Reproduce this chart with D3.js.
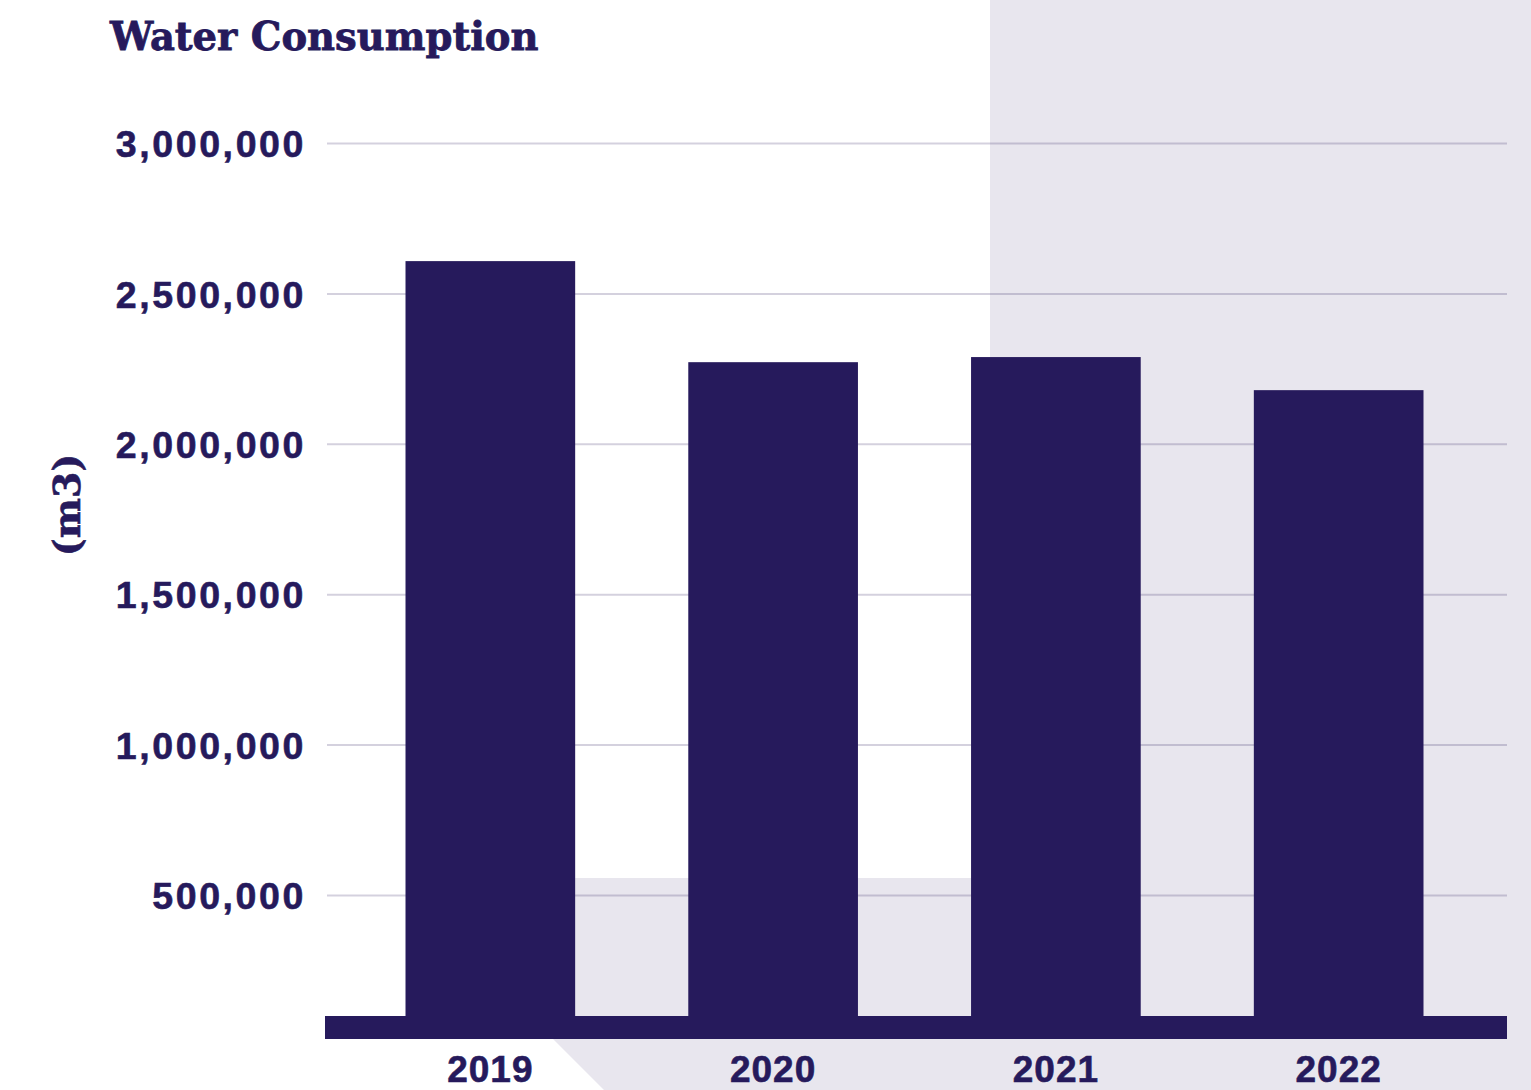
<!DOCTYPE html>
<html>
<head>
<meta charset="utf-8">
<script src="https://cdn.jsdelivr.net/npm/d3@7"></script>
<style>
  html, body { margin: 0; padding: 0; background: #ffffff; }
  svg { display: block; }
</style>
</head>
<body>
<svg id="chart" width="1531" height="1090"></svg>
<script>
// Annual water consumption, cubic metres
const years = ["2019", "2020", "2021", "2022"];
const consumption = [2609000, 2273000, 2290000, 2180000];
const tickValues = [500000, 1000000, 1500000, 2000000, 2500000, 3000000];

const W = 1531, H = 1090;
const ink = "#261a5c";
const panel = "#e8e6ee";

const svg = d3.select("#chart");

const y = d3.scaleLinear().domain([0, 3000000]).range([1045.9, 143.5]);
const x = d3.scaleBand().domain(years).range([323.5, 1505.5])
  .paddingInner(0.4).paddingOuter(0.29);

const baseTop = 1016, baseBottom = 1039;

// Decorative background panels
svg.append("rect").attr("x", 990).attr("y", 0)
  .attr("width", W - 990).attr("height", H).attr("fill", panel);
svg.append("rect").attr("x", x("2019") + x.bandwidth()).attr("y", 878)
  .attr("width", 990 - (x("2019") + x.bandwidth())).attr("height", baseBottom - 878)
  .attr("fill", panel);
svg.append("polygon")
  .attr("points", [[553, baseBottom], [W, baseBottom], [W, H], [604, H]].map(p => p.join(",")).join(" "))
  .attr("fill", panel);

// Value axis labels
const yAxis = d3.axisLeft(y).tickValues(tickValues).tickSize(0)
  .tickFormat(d3.format(","));
const yg = svg.append("g").attr("transform", "translate(306,0)").call(yAxis);
yg.select(".domain").remove();
yg.selectAll("text")
  .attr("x", 0)
  .attr("dy", "0.35em")
  .attr("fill", ink)
  .attr("stroke", ink)
  .attr("stroke-width", 0.6)
  .style("font-family", "'Liberation Sans', Arial, sans-serif")
  .style("font-weight", "bold")
  .style("font-size", "37.5px")
  .style("letter-spacing", "2.6px");

// Gridlines
svg.append("g").selectAll("line")
  .data(tickValues)
  .join("line")
  .attr("x1", 327).attr("x2", 1507)
  .attr("y1", d => y(d)).attr("y2", d => y(d))
  .attr("stroke", ink).attr("stroke-opacity", 0.2).attr("stroke-width", 2);

// Bars
svg.append("g").selectAll("rect")
  .data(years.map((yr, i) => ({ yr, v: consumption[i] })))
  .join("rect")
  .attr("x", d => x(d.yr))
  .attr("width", x.bandwidth())
  .attr("y", d => y(d.v))
  .attr("height", d => baseTop + 4 - y(d.v))
  .attr("fill", ink);

// Baseline
svg.append("rect").attr("x", 325).attr("y", baseTop)
  .attr("width", 1507 - 325).attr("height", baseBottom - baseTop)
  .attr("fill", ink);

// Year labels
const xAxis = d3.axisBottom(x).tickSize(0);
const xg = svg.append("g").attr("transform", `translate(0,${baseBottom})`).call(xAxis);
xg.select(".domain").remove();
xg.selectAll("text")
  .attr("y", 43)
  .attr("dy", 0)
  .attr("fill", ink)
  .attr("stroke", ink)
  .attr("stroke-width", 0.6)
  .style("font-family", "'Liberation Sans', Arial, sans-serif")
  .style("font-weight", "bold")
  .style("font-size", "37px")
  .style("letter-spacing", "1px");

// Title
svg.append("text")
  .attr("x", 110).attr("y", 50)
  .attr("fill", ink)
  .attr("stroke", ink)
  .attr("stroke-width", 0.8)
  .style("font-family", "'DejaVu Serif', serif")
  .style("font-weight", "bold")
  .style("font-size", "38.5px")
  .text("Water Consumption");

// Unit label
svg.append("text")
  .attr("transform", "translate(80,505) rotate(-90)")
  .attr("text-anchor", "middle")
  .attr("fill", ink)
  .attr("stroke", ink)
  .attr("stroke-width", 0.6)
  .style("font-family", "'DejaVu Serif', serif")
  .style("font-weight", "bold")
  .style("font-size", "38px")
  .text("(m3)");
</script>
</body>
</html>
